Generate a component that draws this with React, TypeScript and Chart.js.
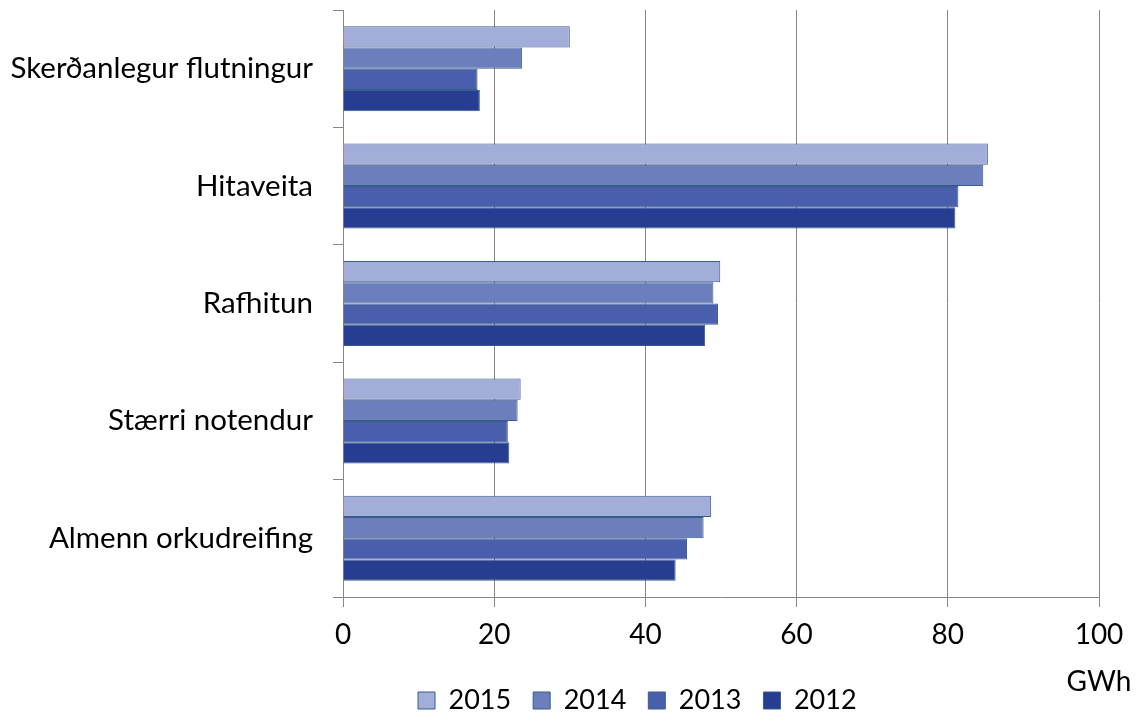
import React, { useEffect, useRef } from "react";
import { Chart, registerables } from "chart.js";

Chart.register(...registerables);

const categories = [
  "Skerðanlegur flutningur",
  "Hitaveita",
  "Rafhitun",
  "Stærri notendur",
  "Almenn orkudreifing",
];
const seriesNames = ["2015", "2014", "2013", "2012"];
const values2015 = [30.0, 85.3, 49.9, 23.5, 48.7];
const values2014 = [23.7, 84.7, 49.0, 23.1, 47.7];
const values2013 = [17.8, 81.4, 49.6, 21.8, 45.5];
const values2012 = [18.1, 81.0, 47.9, 22.0, 44.0];
const seriesColors = ["#A3ADD9", "#6C7EBC", "#4A5FAB", "#263D92"];
const xTicks = [0, 20, 40, 60, 80, 100];
const unitLabel = "GWh";

const FONT = "Lato";
const FS = 27;
const XFS = 28;
const YFS = 29.5;

export default function App() {
  const ref = useRef<HTMLCanvasElement | null>(null);
  useEffect(() => {
    if (!ref.current) return;
    const allValues = [values2015, values2014, values2013, values2012];
    const unitPlugin = {
      id: "unitLabel",
      afterLayout(chart: any) {
        const lg = chart.legend;
        if (lg) {
          const shift = 637.3 - (lg.left + lg.right) / 2;
          lg.left += shift;
          lg.right += shift;
        }
      },
      afterDraw(chart: any) {
        const ctx = chart.ctx;
        const xs = chart.scales.x;
        ctx.save();
        ctx.font = `${XFS}px ${FONT}`;
        ctx.fillStyle = "#000";
        ctx.textAlign = "center";
        ctx.textBaseline = "middle";
        ctx.fillText(unitLabel, xs.getPixelForValue(xTicks[xTicks.length - 1]), 682);
        ctx.restore();
      },
    };
    const chart = new Chart(ref.current, {
      type: "bar",
      data: {
        labels: categories,
        datasets: seriesNames.map((n, i) => ({
          label: n,
          data: allValues[i],
          backgroundColor: seriesColors[i],
          borderColor: "#385D8A",
          borderWidth: 1,
          barPercentage: 1,
          categoryPercentage: 0.724,
        })),
      },
      options: {
        indexAxis: "y",
        animation: false,
        responsive: false,
        layout: { padding: { top: 10, left: 0, right: 39, bottom: 0 } },
        font: { family: FONT, size: FS },
        scales: {
          x: {
            min: 0,
            max: 100,
            afterBuildTicks(scale: any) {
              scale.ticks = xTicks.map((v) => ({ value: v }));
            },
            afterFit(scale: any) {
              scale.height = 68;
            },
            grid: { color: "#868686", lineWidth: 1, tickLength: 10, drawTicks: true },
            border: { color: "#868686", width: 1 },
            ticks: { color: "#000", font: { family: FONT, size: XFS }, padding: 11 },
          },
          y: {
            afterFit(scale: any) {
              scale.width = 343;
              scale.paddingTop = 0;
              scale.paddingBottom = 0;
            },
            grid: { drawOnChartArea: false, color: "#868686", tickLength: 10, offset: true },
            border: { color: "#868686", width: 1 },
            ticks: { color: "#000", font: { family: FONT, size: YFS }, padding: 20 },
          },
        },
        plugins: {
          legend: {
            position: "bottom",
            labels: {
              boxWidth: 17,
              boxHeight: 17,
              padding: 22,
              color: "#000",
              font: { family: FONT, size: FS },
            },
          },
          tooltip: { enabled: false },
        },
      },
      plugins: [unitPlugin],
    });
    return () => chart.destroy();
  }, []);
  return (
    <div style={{ position: "fixed", left: 0, top: 0, width: 1138, height: 713, overflow: "hidden", background: "#fff" }}>
      <canvas ref={ref} width={1138} height={724} style={{ display: "block" }} />
    </div>
  );
}
